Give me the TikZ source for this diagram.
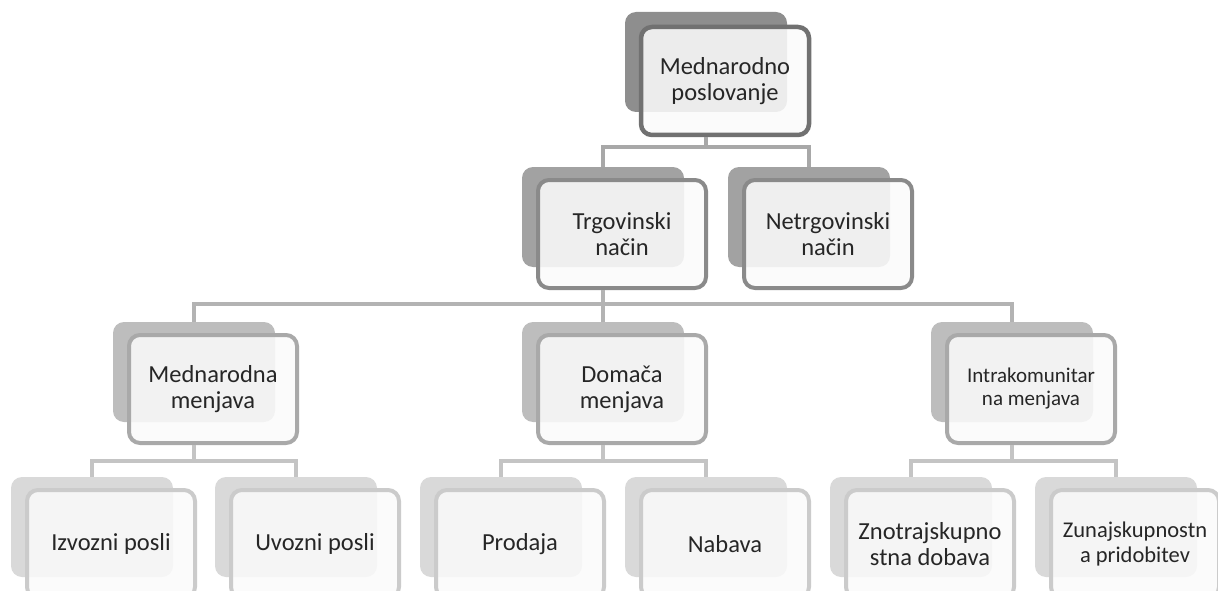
\documentclass[tikz,border=0pt]{standalone}
\usepackage{fontspec}
\setmainfont{Carlito}
\definecolor{backA}{HTML}{8E8E8E}
\definecolor{bordA}{HTML}{717171}
\definecolor{backB}{HTML}{A2A2A2}
\definecolor{bordB}{HTML}{8A8A8A}
\definecolor{backC}{HTML}{BDBDBD}
\definecolor{bordC}{HTML}{A9A9A9}
\definecolor{backD}{HTML}{D9D9D9}
\definecolor{bordD}{HTML}{CBCBCB}
\definecolor{connA}{HTML}{A8A8A8}
\definecolor{connB}{HTML}{B3B3B3}
\definecolor{connC}{HTML}{C4C4C4}
\definecolor{frontfill}{HTML}{FAFAFA}
\definecolor{textc}{HTML}{262626}
\begin{document}
\begin{tikzpicture}[x=1pt,y=-1pt,
  backbox/.style={draw=none, rounded corners=11pt, minimum width=162pt, minimum height=100pt, inner sep=0pt},
  frontbox/.style={rounded corners=11pt, minimum width=168pt, minimum height=108pt, inner sep=0pt, line width=4pt,
     fill=frontfill, fill opacity=0.88, text opacity=1, align=center, text=textc,
     font=\fontsize{24.5}{26}\selectfont},
  lvA/.style={fill=backA}, frA/.style={draw=bordA, line width=4.5pt},
  lvB/.style={fill=backB}, frB/.style={draw=bordB},
  lvC/.style={fill=backC}, frC/.style={draw=bordC},
  lvD/.style={fill=backD}, frD/.style={draw=bordD},
  conn/.style={line width=4pt}
]
\useasboundingbox (0,0) rectangle (1218,591);
\clip (0,0) rectangle (1218,591);
% level 0
\node[backbox, lvA] (topb) at (706,62) {};
\node[frontbox, frA] (top) at (725,81) {Mednarodno\\poslovanje};
% level 1
\node[backbox, lvB] (trgb) at (603,217) {};
\node[frontbox, frB] (trg) at (622,234) {Trgovinski\\način};
\node[backbox, lvB] (netb) at (809,217) {};
\node[frontbox, frB] (net) at (828,234) {Netrgovinski\\način};
% level 2
\node[backbox, lvC] (menb) at (194,372) {};
\node[frontbox, frC] (men) at (213,389) {Mednarodna\\menjava};
\node[backbox, lvC] (domb) at (603,372) {};
\node[frontbox, frC] (dom) at (622,389) {Domača\\menjava};
\node[backbox, lvC] (intb) at (1012,372) {};
\node[frontbox, frC, font=\fontsize{21}{23}\selectfont] (int) at (1031,389) {Intrakomunitar\\na menjava};
% level 3
\node[backbox, lvD] (izvb) at (92,527) {};
\node[frontbox, frD] (izv) at (111,544) {Izvozni posli};
\node[backbox, lvD] (uvob) at (296,527) {};
\node[frontbox, frD] (uvo) at (315,544) {Uvozni posli};
\node[backbox, lvD] (prob) at (501,527) {};
\node[frontbox, frD] (pro) at (520,544) {Prodaja};
\node[backbox, lvD] (nabb) at (706,527) {};
\node[frontbox, frD] (nab) at (725,544) {Nabava};
\node[backbox, lvD] (zntb) at (911,527) {};
\node[frontbox, frD] (znt) at (930,544) {Znotrajskupno\\stna dobava};
\node[backbox, lvD] (znab) at (1116,527) {};
\node[frontbox, frD, font=\fontsize{22.5}{25}\selectfont] (zna) at (1135,544) {Zunajskupnostn\\a pridobitev};
% connectors
\draw[conn, connA] (topb.south |- top.south) -- ++(0,10) -| (trgb.north);
\draw[conn, connA] (topb.south |- top.south) -- ++(0,10) -| (netb.north);
\draw[conn, connB] (trgb.south |- trg.south) -- ++(0,14) -| (menb.north);
\draw[conn, connB] (trgb.south |- trg.south) -- ++(0,14) -| (intb.north);
\draw[conn, connB] (trgb.south |- trg.south) -- (domb.north);
\draw[conn, connC] (menb.south |- men.south) -- ++(0,16) -| (izvb.north);
\draw[conn, connC] (menb.south |- men.south) -- ++(0,16) -| (uvob.north);
\draw[conn, connC] (domb.south |- dom.south) -- ++(0,16) -| (prob.north);
\draw[conn, connC] (domb.south |- dom.south) -- ++(0,16) -| (nabb.north);
\draw[conn, connC] (intb.south |- int.south) -- ++(0,16) -| (zntb.north);
\draw[conn, connC] (intb.south |- int.south) -- ++(0,16) -| (znab.north);
\end{tikzpicture}
\end{document}
